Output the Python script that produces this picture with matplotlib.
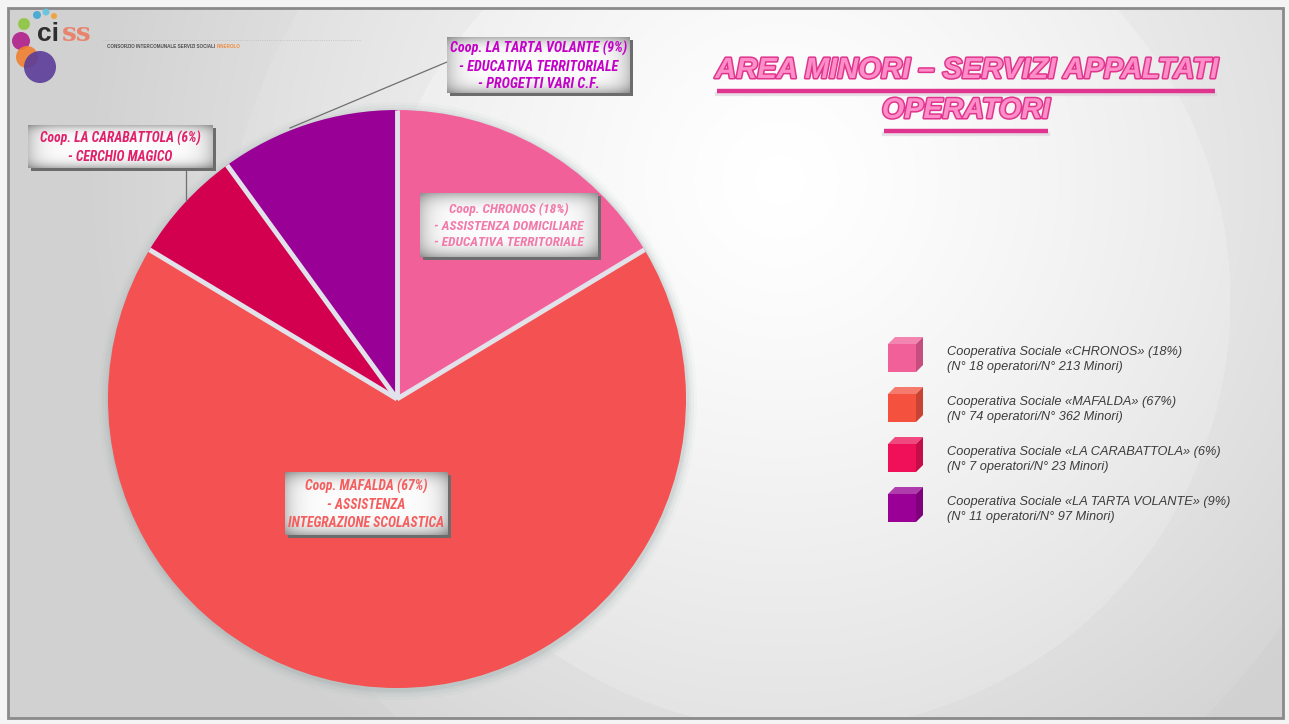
import numpy as np
import matplotlib
matplotlib.use('Agg')
import matplotlib.pyplot as plt
from matplotlib import patheffects as pe
from matplotlib.patches import Rectangle, Circle, Polygon
from matplotlib import font_manager as fm

# --- data ---
coops = ['CHRONOS', 'MAFALDA', 'LA CARABATTOLA', 'LA TARTA VOLANTE']
operatori = [18, 74, 7, 11]
minori = [213, 362, 23, 97]
percentuali = [18, 67, 6, 9]
colori = ['#F2609A', '#F45252', '#D2004F', '#980096']
colori_legenda = ['#F2609A', '#F4523F', '#F0105A', '#9A0096']
colori_etichette = ['#F27AAA', '#F45E5E', '#E0206A', '#C400C8']
righe_etichette = [
    ['Coop. CHRONOS (18%)', '- ASSISTENZA DOMICILIARE', '- EDUCATIVA TERRITORIALE'],
    ['Coop. MAFALDA (67%)', '- ASSISTENZA', 'INTEGRAZIONE SCOLASTICA'],
    ['Coop. LA CARABATTOLA (6%)', '- CERCHIO MAGICO'],
    ['Coop. LA TARTA VOLANTE (9%)', '- EDUCATIVA TERRITORIALE', '- PROGETTI VARI C.F.'],
]
titolo = ['AREA MINORI \u2013 SERVIZI APPALTATI', 'OPERATORI']

W, H = 1289, 724


# pick a narrow font if there is one
def has_font(name):
    try:
        fm.findfont(fm.FontProperties(family=name), fallback_to_default=False)
        return True
    except ValueError:
        return False


narrow = 'Liberation Sans'
for cand in ['Liberation Sans Narrow', 'DejaVu Sans Condensed', 'Roboto Condensed',
             'Open Sans Condensed', 'Noto Sans Condensed', 'Roboto']:
    if has_font(cand):
        narrow = cand
        break
plt.rcParams['font.family'] = ['Liberation Sans', 'DejaVu Sans']

fig = plt.figure(figsize=(W / 100, H / 100), dpi=100, facecolor='#F2F2F2')
ax = fig.add_axes([0, 0, 1, 1])

# Pie: centre and radius in pixels, clockwise from 12 o'clock (y axis is flipped)
cx, cy, R = 397, 399, 289
for k, a in [(10, 0.04), (7, 0.06), (4, 0.09), (2, 0.12)]:
    ax.add_patch(Circle((cx + 1, cy + 2), R + k, fc='#7E9494', ec='none', alpha=a, zorder=2))
wedges, _ = ax.pie(operatori, colors=colori, center=(cx, cy), radius=R,
                   startangle=-90, counterclock=True,
                   wedgeprops=dict(edgecolor='none', linewidth=0))
for w in wedges:
    w.set_zorder(3)
    a = np.deg2rad(w.theta1)
    ax.plot([cx, cx + R * np.cos(a)], [cy, cy + R * np.sin(a)], color='#E2E2EA', lw=3.5,
            solid_capstyle='butt', zorder=3.5)

# background with soft radial light
yy, xx = np.mgrid[0:H, 0:W]
r = np.hypot(xx - 780, yy - 180)
bg = 0.97 - 0.15 * np.clip(r / 700, 0, 1) ** 1.3
r2 = np.hypot(xx - 800, yy - 300)
bg += 0.02 * (r2 < 430) + 0.012 * (r2 < 580)
bg = np.clip(bg, 0, 1)
ax.imshow(np.dstack([bg, bg, bg]), extent=(0, W, H, 0), zorder=0,
          aspect='auto', interpolation='bilinear')
ax.add_patch(Rectangle((0, 0), W, 8, fc='#F4F4F4', ec='none', zorder=1))
ax.add_patch(Rectangle((0, 718), W, 6, fc='#F4F4F4', ec='none', zorder=1))
ax.add_patch(Rectangle((0, 0), 8, H, fc='#F4F4F4', ec='none', zorder=1))
ax.add_patch(Rectangle((1283, 0), 6, H, fc='#F4F4F4', ec='none', zorder=1))
ax.add_patch(Rectangle((8, 8), 1275, 710, fc='none', ec='#8A8A8A', lw=2, zorder=1))

# label boxes
boxes = [(420, 193, 598, 257), (285, 472, 448, 535), (28, 125, 213, 168), (447, 37, 630, 93)]
text_widths = [150, 156, 162, 177]
u = np.linspace(0, 1, 200)
v = np.linspace(0, 1, 60)
grad = (1 - 0.28 * np.abs(2 * v - 1) ** 4)[:, None] * (1 - 0.22 * np.abs(2 * u - 1) ** 8)[None, :]
grad = np.dstack([grad * 0.99] * 3)

ax.plot([447, 290], [62, 128], color='#707070', lw=0.9, zorder=4)
ax.plot([186, 186], [168, 201], color='#707070', lw=0.9, zorder=4)

box_texts = []
for (x0, y0, x1, y1), righe, col, tw in zip(boxes, righe_etichette, colori_etichette, text_widths):
    ax.add_patch(Rectangle((x0 + 3, y0 + 3), x1 - x0, y1 - y0, fc='#6C6C6C', ec='none', zorder=5))
    ax.imshow(grad, extent=(x0, x1, y1, y0), zorder=6, aspect='auto', interpolation='bilinear')
    t = ax.text((x0 + x1) / 2, (y0 + y1) / 2 + 1, '\n'.join(righe), ha='center', va='center',
                color=col, family=[narrow, 'DejaVu Sans'], style='italic', weight='bold',
                fontsize=8, linespacing=1.35, zorder=7)
    box_texts.append((t, tw))

# legend with little cubes
for i, (nome, p, op, mi, col) in enumerate(zip(coops, percentuali, operatori, minori, colori_legenda)):
    ty = 352 + 50 * i
    x0, y0, s, d = 888, ty - 8, 28, 7
    ax.add_patch(Polygon([(x0, y0), (x0 + s, y0), (x0 + s + d, y0 - d), (x0 + d, y0 - d)],
                         fc=col, ec='none', alpha=0.75, zorder=5))
    ax.add_patch(Polygon([(x0 + s, y0), (x0 + s + d, y0 - d), (x0 + s + d, y0 + s - d), (x0 + s, y0 + s)],
                         fc=col, ec='none', zorder=5))
    ax.add_patch(Polygon([(x0 + s, y0), (x0 + s + d, y0 - d), (x0 + s + d, y0 + s - d), (x0 + s, y0 + s)],
                         fc='black', ec='none', alpha=0.18, zorder=5))
    ax.add_patch(Rectangle((x0, y0), s, s, fc=col, ec='none', zorder=5))
    ax.text(947, ty, f'Cooperativa Sociale \u00ab{nome}\u00bb ({p}%)', ha='left', va='center',
            color='#3C3C3C', style='italic', fontsize=9.2, zorder=5)
    ax.text(947, ty + 15, f'(N\u00b0 {op} operatori/N\u00b0 {mi} Minori)', ha='left', va='center',
            color='#3C3C3C', style='italic', fontsize=9.2, zorder=5)

# title
title_texts = []
for riga, ty, wt in zip(titolo, [70, 110], [503, 168]):
    t = ax.text(966, ty, riga, ha='center', va='center', color='#FF8DC8',
                family=['Liberation Sans', 'DejaVu Sans'], style='italic', weight='bold',
                fontsize=20, zorder=5,
                path_effects=[pe.withStroke(linewidth=2.2, foreground='#E0358E')])
    title_texts.append((t, wt))

# logo
for x, y, rr, c in [(37, 15, 4, '#3BA7D6'), (46, 12, 3.5, '#62C3E0'), (54, 16, 3, '#F0A030'),
                    (24, 24, 6, '#8DC63F'), (21, 41, 9, '#B0208A'), (27, 57, 11, '#F08030'),
                    (40, 67, 16, '#5A3C9A')]:
    ax.add_patch(Circle((x, y), rr, fc=c, ec='none', alpha=0.9, zorder=5))
ax.text(37, 41, 'ci', color='#2E2E2E', weight='bold', fontsize=19, ha='left', va='baseline', zorder=6)
ax.text(62, 41, 'ss', color='#E8846E', weight='bold', fontsize=19, ha='left', va='baseline', zorder=6,
        family='DejaVu Serif')
ax.plot([103, 360], [40, 40], color='#BDBDBD', lw=0.6, ls=':', zorder=5)
logo_small = ax.text(107, 46, 'CONSORZIO INTERCOMUNALE SERVIZI SOCIALI ', color='#505050',
                     weight='bold', fontsize=3.3, ha='left', va='center', zorder=6)

ax.set_xlim(0, W)
ax.set_ylim(H, 0)
ax.axis('off')

# fit widths and add underlines
fig.canvas.draw()
rend = fig.canvas.get_renderer()
for t, wt in box_texts + title_texts:
    bb = t.get_window_extent(rend)
    t.set_fontsize(t.get_fontsize() * wt / bb.width)
fig.canvas.draw()
bb = logo_small.get_window_extent(rend)
ax.text(bb.x1, 46, 'PINEROLO', color='#F08A3C', weight='bold', fontsize=3.3, ha='left',
        va='center', zorder=6)
for (t, wt), uy in zip(title_texts, [91, 131]):
    bb = t.get_window_extent(rend)
    ax.plot([bb.x0 + 2, bb.x1 - 2], [uy + 3, uy + 3], color='#D8D0D8', lw=3, alpha=0.6, zorder=4)
    ax.plot([bb.x0 + 2, bb.x1 - 2], [uy, uy], color='#E0358E', lw=3.2, zorder=5,
            solid_capstyle='butt')

fig.savefig('out.png', dpi=100, facecolor=fig.get_facecolor())
